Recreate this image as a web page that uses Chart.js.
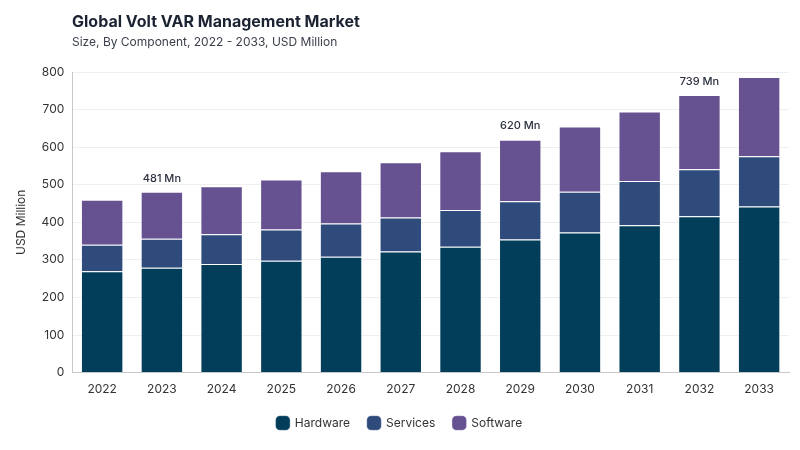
<!DOCTYPE html>
<html>
<head>
<meta charset="utf-8">
<script src="https://cdn.jsdelivr.net/npm/chart.js@4"></script>
<style>
  html, body { margin: 0; padding: 0; background: #fff; }
  #wrap { position: relative; width: 800px; height: 450px; font-family: Inter, "Noto Sans", sans-serif; }
  #title { position: absolute; left: 72px; top: 11px; font-size: 16px; font-weight: 700; color: #1b2232; }
  #subtitle { position: absolute; left: 72px; top: 34px; font-size: 12px; color: #3a3f4b; }
  canvas { position: absolute; left: 0; top: 0; }
</style>
</head>
<body>
<div id="wrap">
  <canvas id="marketChart" width="800" height="450"></canvas>
  <div id="title">Global Volt VAR Management Market</div>
  <div id="subtitle">Size, By Component, 2022 - 2033, USD Million</div>
</div>
<script>
const years = ['2022', '2023', '2024', '2025', '2026', '2027', '2028', '2029', '2030', '2031', '2032', '2033'];
const hardware = [270, 279, 289, 298, 308, 322, 335, 354, 373, 392, 416, 442];
const services = [70, 77, 79, 83, 89, 91, 98, 102, 108, 118, 125, 134];
const software = [120, 125, 128, 133, 139, 147, 156, 164, 174, 185, 198, 211];
// totals called out above a few bars
const calloutYears = ['2023', '2029', '2032'];
const calloutText = ['481 Mn', '620 Mn', '739 Mn'];

const tickFont = { family: 'Inter, "Noto Sans", sans-serif', size: 12 };

const callouts = {
    id: 'callouts',
    afterDatasetsDraw(chart) {
        const c = chart.ctx;
        const x = chart.scales.x, y = chart.scales.y;
        c.save();
        c.font = '500 11px Inter, "Noto Sans", sans-serif';
        c.fillStyle = '#2b3040';
        c.textAlign = 'center';
        c.textBaseline = 'bottom';
        calloutYears.forEach((yr, i) => {
            const idx = years.indexOf(yr);
            const total = hardware[idx] + services[idx] + software[idx];
            c.fillText(calloutText[i], x.getPixelForValue(idx), y.getPixelForValue(total) - 8);
        });
        c.restore();
    }
};

function bar(label, data, color) {
    return {
        label: label,
        data: data,
        backgroundColor: color,
        borderColor: 'rgba(255,255,255,0.35)',
        borderWidth: 1,
        borderRadius: 1,
        borderSkipped: 'bottom',
        barPercentage: 0.71,
        categoryPercentage: 1
    };
}

new Chart(document.getElementById('marketChart'), {
    type: 'bar',
    data: {
        labels: years,
        datasets: [
            bar('Hardware', hardware, '#023e5a'),
            bar('Services', services, '#2f4b7c'),
            bar('Software', software, '#665191')
        ]
    },
    options: {
        responsive: false,
        animation: false,
        layout: { padding: { top: 72, right: 11, left: 10, bottom: 11 } },
        plugins: {
            legend: {
                position: 'bottom',
                labels: {
                    usePointStyle: true,
                    pointStyle: 'rectRounded',
                    boxWidth: 14,
                    boxHeight: 14,
                    padding: 18,
                    color: '#333',
                    font: tickFont
                }
            },
            tooltip: { enabled: false }
        },
        scales: {
            x: {
                stacked: true,
                grid: { display: false },
                border: { color: '#c8c8c8' },
                ticks: { color: '#333', font: tickFont, padding: 2 }
            },
            y: {
                stacked: true,
                min: 0,
                max: 800,
                ticks: { stepSize: 100, color: '#333', font: tickFont, padding: 8 },
                grid: { color: '#efefef', drawTicks: false },
                border: { color: '#c8c8c8' },
                title: {
                    display: true,
                    text: 'USD Million',
                    color: '#333',
                    font: tickFont,
                    padding: { top: 4, bottom: 5 }
                }
            }
        }
    },
    plugins: [callouts]
});
</script>
</body>
</html>
